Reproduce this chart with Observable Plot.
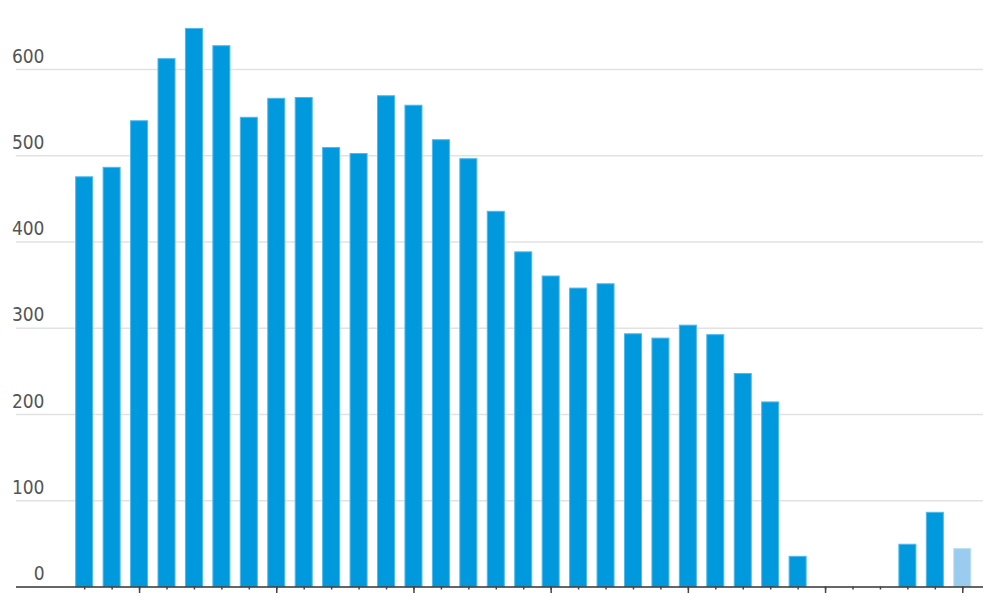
<!DOCTYPE html>
<html>
<head>
<meta charset="utf-8">
<script src="https://cdn.jsdelivr.net/npm/d3@7"></script>
<script src="https://cdn.jsdelivr.net/npm/@observablehq/plot@0.6"></script>
<style>
  html, body { margin: 0; padding: 0; background: #fff; }
  #chart svg { display: block; }
</style>
</head>
<body>
<div id="chart"></div>
<script>
const years = d3.range(1988, 2021);
const values = [475, 486, 540, 612, 647, 627, 544, 566, 567, 509, 502, 569, 558, 518, 496,
                435, 388, 360, 346, 351, 293, 288, 303, 292, 247, 214, 35, 0, 0, 0, 49, 86, 44];
const partial = [2020];
const gridValues = [0, 100, 200, 300, 400, 500, 600];
const majorYears = years.filter(y => y % 5 === 0);

const data = years.map((year, i) => ({year, value: values[i], partial: partial.includes(year)}))
  .filter(d => d.value > 0);

const font = "'Liberation Sans Narrow', 'DejaVu Sans Condensed', 'Noto Sans', sans-serif";

const chart = Plot.plot({
  width: 1000,
  height: 600,
  marginTop: 0,
  marginBottom: 13.5,
  marginLeft: 16,
  marginRight: 17,
  style: {fontFamily: font, background: "#fff"},
  x: {type: "band", domain: years, paddingInner: 0.38, paddingOuter: 1.31, align: 0.83, round: false, axis: null},
  y: {domain: [0, 680], axis: null},
  marks: [
    Plot.ruleY(gridValues.filter(v => v > 0), {stroke: "#e2e2e2", strokeWidth: 1.5}),
    Plot.barY(data, {
      x: "year", y: "value",
      fill: d => d.partial ? "#99ccee" : "#0099dd",
      stroke: d => d.partial ? "#bfe0f5" : "#4fb9ea",
      strokeWidth: 1
    }),
    Plot.ruleY([0], {stroke: "#333", strokeWidth: 1.5}),
    Plot.axisX({ticks: years, tickSize: 3, tickFormat: () => "", stroke: "#444", strokeWidth: 1.5, label: null}),
    Plot.axisX({ticks: majorYears, tickSize: 6.5, tickFormat: () => "", stroke: "#444", strokeWidth: 1.5, label: null}),
    Plot.text(gridValues, {
      y: d => d, text: d => String(d),
      frameAnchor: "left", textAnchor: "end", dx: 28, dy: -7, lineAnchor: "bottom",
      fill: "#555", fontSize: 19
    })
  ]
});
document.getElementById("chart").appendChild(chart);
</script>
</body>
</html>
